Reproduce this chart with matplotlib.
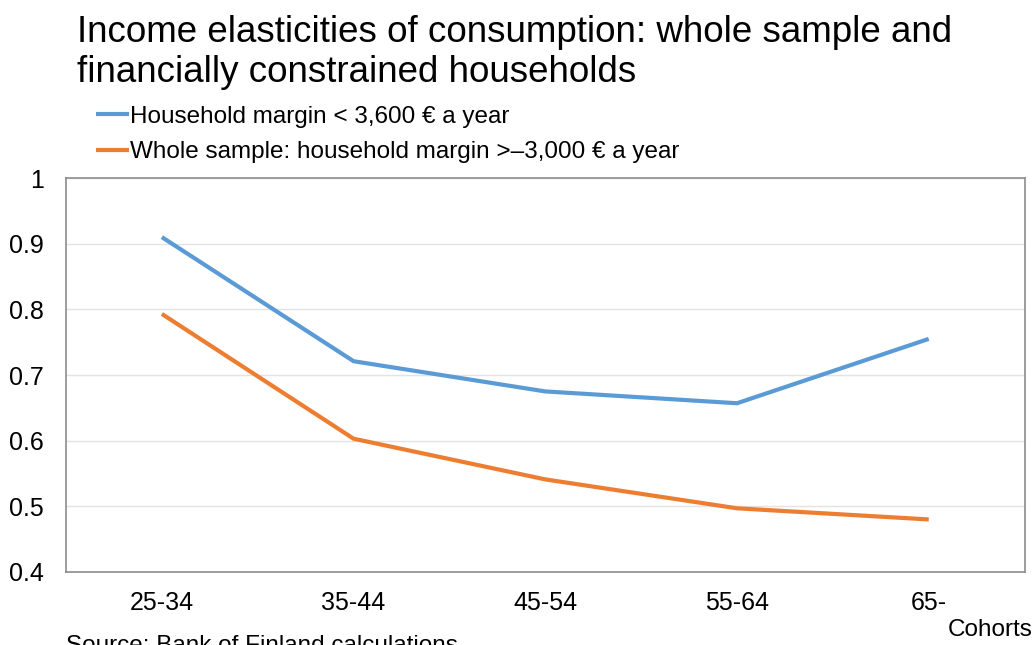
import matplotlib
matplotlib.use("Agg")
import matplotlib.pyplot as plt

plt.rcParams['font.family'] = ['Liberation Sans', 'DejaVu Sans']

# cohorts on the x axis
cohorts = ["25-34", "35-44", "45-54", "55-64", "65-"]

# income elasticities
constrained = [0.91, 0.721, 0.675, 0.657, 0.755]
whole_sample = [0.793, 0.603, 0.541, 0.497, 0.48]

yticks = [0.4, 0.5, 0.6, 0.7, 0.8, 0.9, 1.0]
ytick_labels = ["0.4", "0.5", "0.6", "0.7", "0.8", "0.9", "1"]

blue = "#5B9BD5"
orange = "#ED7D31"

fig = plt.figure(figsize=(10.36, 6.45), dpi=100)
ax = fig.add_axes([0.0637, 0.1132, 0.9253, 0.6108])

x = list(range(len(cohorts)))
ax.plot(x, constrained, color=blue, lw=3, label="Household margin < 3,600 € a year",
        solid_capstyle="butt")
ax.plot(x, whole_sample, color=orange, lw=3,
        label="Whole sample: household margin >\u20133,000 € a year",
        solid_capstyle="butt")

ax.set_xlim(-0.5, len(cohorts) - 0.5)
ax.set_ylim(0.4, 1.0)
ax.set_xticks(x)
ax.set_xticklabels(cohorts, fontsize=18)
ax.set_yticks(yticks)
ax.set_yticklabels(ytick_labels, fontsize=18)
ax.tick_params(axis="x", length=0, pad=14)
ax.tick_params(axis="y", length=0, pad=16)

ax.grid(axis="y", color="#e3e3e3", lw=1)
ax.set_axisbelow(True)
for s in ax.spines.values():
    s.set_color("#8c8c8c")
    s.set_linewidth(1.2)

fig.text(0.074, 0.976, "Income elasticities of consumption: whole sample and\nfinancially constrained households",
         fontsize=26.5, va="top", ha="left", linespacing=1.17)

fig.legend(loc="upper left", bbox_to_anchor=(0.093, 0.836), frameon=False,
           fontsize=17.5, handlelength=1.35, handletextpad=0.05, labelspacing=0.55,
           borderaxespad=0, borderpad=0)

fig.text(0.997, 0.006, "Cohorts", fontsize=17.5, ha="right", va="bottom")
fig.text(0.064, -0.018, "Source: Bank of Finland calculations", fontsize=17.5, ha="left", va="bottom")

fig.savefig("out.png", dpi=100)
